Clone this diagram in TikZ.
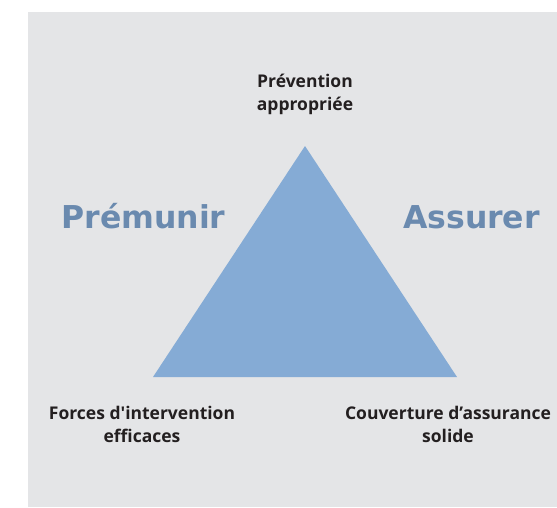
\documentclass[tikz,border=0pt]{standalone}
\usepackage{fontspec}
\setmainfont{Open Sans}
\newfontfamily\bigfont{DejaVu Sans}
\definecolor{bggray}{HTML}{E4E5E7}
\definecolor{triblue}{HTML}{85ABD5}
\definecolor{titleblue}{HTML}{6A8AAF}
\definecolor{txtdark}{HTML}{231F20}
\newcommand{\sq}{{\addfontfeature{Ligatures=TeXOff}'}}
\tikzset{
  lab/.style={font=\bfseries\fontsize{17.5}{23}\selectfont, text=txtdark, align=center, inner sep=0pt},
  big/.style={font=\bigfont\bfseries\fontsize{31.5}{36}\selectfont, text=titleblue, inner sep=0pt},
}
\begin{document}
\begin{tikzpicture}[x=1pt,y=-1pt]
\useasboundingbox (0,0) rectangle (557,507);
\fill[bggray] (28,12) rectangle (557,507);
\fill[triblue] (305,146) -- (153,377) -- (457,377) -- cycle;
\node[lab] (top) at (305,94) {Prévention\\appropriée};
\node[lab] (left) at (142,424) {Forces d\sq intervention\\efficaces};
\node[lab] (right) at (448,424) {Couverture d’assurance\\solide};
\node[big, anchor=base] (prem) at (143.5,228.5) {Prémunir};
\node[big, anchor=base] (ass) at (471.5,228.5) {Assurer};
\end{tikzpicture}
\end{document}
